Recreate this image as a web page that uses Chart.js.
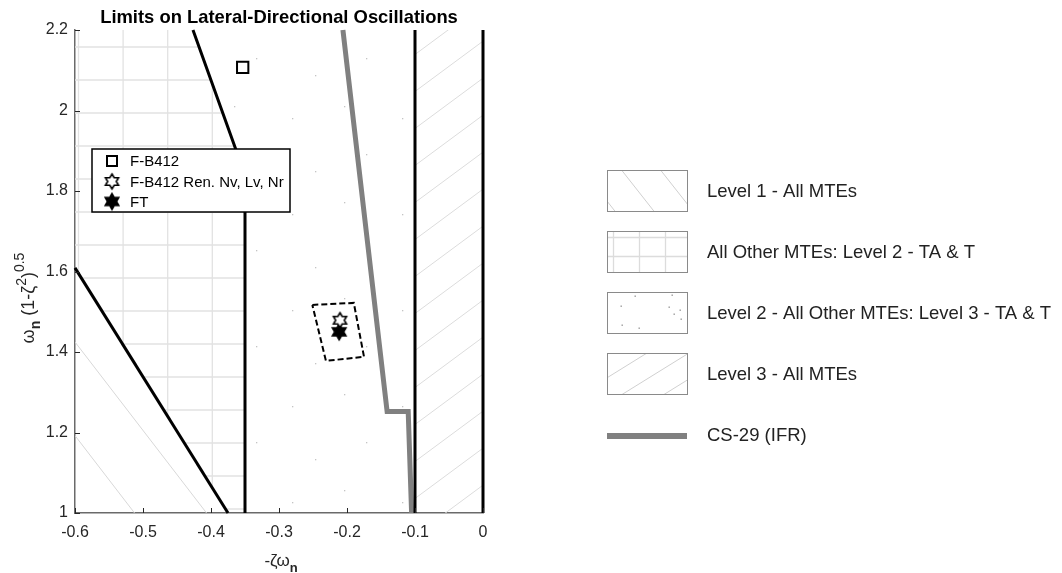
<!DOCTYPE html>
<html><head><meta charset="utf-8">
<script src="https://cdn.jsdelivr.net/npm/chart.js@4/dist/chart.umd.min.js"></script>
<style>html,body{margin:0;padding:0;background:#fff}#wrap{width:1062px;height:573px;position:relative}</style>
</head><body><div id="wrap"><canvas id="c" width="1062" height="573"></canvas></div>
<script>
// ---- data ----
const xTicks = [-0.6, -0.5, -0.4, -0.3, -0.2, -0.1, 0];
const yTicks = [1, 1.2, 1.4, 1.6, 1.8, 2, 2.2];
const lowerBoundary = [[-0.6, 1.609], [-0.375, 1.0]];
const upperBoundary = [[-0.4265, 2.2], [-0.35, 1.84], [-0.35, 1.0]];
const level3LeftBoundary = [[-0.1, 1.0], [-0.1, 2.2]];
const level3RightBoundary = [[0, 1.0], [0, 2.2]];
const cs29Line = [[-0.206, 2.2], [-0.141, 1.252], [-0.11, 1.252], [-0.105, 1.0]];
const envelopeBox = [[-0.251, 1.517], [-0.190, 1.522], [-0.175, 1.388], [-0.231, 1.378], [-0.251, 1.517]];
const fb412 = [[-0.3534, 2.107]];
const fb412Ren = [[-0.2103, 1.479]];
const ftPoints = [[-0.2115, 1.450]];
const regionLevel1 = [[-0.6, 1.609], [-0.375, 1.0], [-0.6, 1.0]];
const regionLevel2 = [[-0.6, 2.2], [-0.4265, 2.2], [-0.35, 1.84], [-0.35, 1.0], [-0.375, 1.0], [-0.6, 1.609]];
const regionLevel23 = [[-0.4265, 2.2], [-0.1, 2.2], [-0.1, 1.0], [-0.35, 1.0], [-0.35, 1.84]];
const regionLevel3 = [[-0.1, 2.2], [0, 2.2], [0, 1.0], [-0.1, 1.0]];
const markerLegend = ['F-B412', 'F-B412 Ren. Nv, Lv, Nr', 'FT'];
const regionLegend = ['Level 1 - All MTEs', 'All Other MTEs: Level 2 - TA & T', 'Level 2 - All Other MTEs: Level 3 - TA & T', 'Level 3 - All MTEs', 'CS-29 (IFR)'];
const titleText = 'Limits on Lateral-Directional Oscillations';

// ---- styling helpers ----
const FONT = '"Liberation Sans", Arial, Helvetica, sans-serif';
const toPts = a => a.map(([x, y]) => ({x, y}));
function hexagram(R, fill, stroke, lw) {
  const s = Math.ceil(2 * R + lw + 2); const c = document.createElement('canvas'); c.width = c.height = s;
  const g = c.getContext('2d'); const cx = s / 2, cy = s / 2, r = R / Math.sqrt(3);
  g.beginPath();
  for (let k = 0; k < 12; k++) { const a = -Math.PI / 2 + k * Math.PI / 6; const rr = k % 2 === 0 ? R : r; g.lineTo(cx + rr * Math.cos(a), cy + rr * Math.sin(a)); }
  g.closePath(); g.fillStyle = fill; g.fill(); g.lineWidth = lw; g.strokeStyle = stroke; g.lineJoin = 'miter'; g.stroke();
  return c;
}
const openStar = hexagram(7.5, '#ffffff', '#000000', 1.6);
const filledStar = hexagram(8.2, '#000000', '#000000', 1.2);
function dotTile() {
  const c = document.createElement('canvas'); c.width = 110; c.height = 96; const g = c.getContext('2d');
  g.fillStyle = '#c4c4c4';
  [[14, 10], [72, 22], [36, 58], [95, 75]].forEach(([x, y]) => g.fillRect(x, y, 1.3, 1.3));
  return c;
}
const dots = dotTile();

function polyPath(ctx, xs, ys, poly) {
  ctx.beginPath();
  poly.forEach(([x, y], i) => { const px = xs.getPixelForValue(x), py = ys.getPixelForValue(y); i ? ctx.lineTo(px, py) : ctx.moveTo(px, py); });
  ctx.closePath();
}
function hatch(ctx, l, t, r, b, x0, y0, slope, stepY) {
  const f = x => y0 + slope * (x - x0);
  const d = [t - f(l), t - f(r), b - f(l), b - f(r)];
  const kmin = Math.floor(Math.min(...d) / stepY) - 1, kmax = Math.ceil(Math.max(...d) / stepY) + 1;
  ctx.beginPath();
  for (let k = kmin; k <= kmax; k++) { ctx.moveTo(l, f(l) + k * stepY); ctx.lineTo(r, f(r) + k * stepY); }
  ctx.stroke();
}
function gridLines(ctx, l, t, r, b, x0, y0, sx, sy) {
  ctx.beginPath();
  for (let x = x0; x <= r; x += sx) { ctx.moveTo(x, t); ctx.lineTo(x, b); }
  for (let y = y0; y <= b; y += sy) { ctx.moveTo(l, y); ctx.lineTo(r, y); }
  ctx.stroke();
}

const regionsPlugin = {
  id: 'regions',
  beforeDatasetsDraw(chart) {
    const {ctx, chartArea: ca, scales: {x, y}} = chart;
    ctx.save();
    ctx.strokeStyle = '#d8d8d8'; ctx.lineWidth = 1;
    // Level 1
    ctx.save(); polyPath(ctx, x, y, regionLevel1); ctx.clip();
    hatch(ctx, ca.left, ca.top, ca.right, ca.bottom, ca.left, ca.top + 312, 1.3, 93.6); ctx.restore();
    // Level 2 grid
    ctx.save(); polyPath(ctx, x, y, regionLevel2); ctx.clip();
    ctx.strokeStyle = '#e2e2e2'; ctx.lineWidth = 1.3;
    gridLines(ctx, ca.left, ca.top, ca.right, ca.bottom, ca.left + 3.5, ca.top + 17, 44.6, 33); ctx.restore();
    // Level 2/3 dots
    ctx.save(); polyPath(ctx, x, y, regionLevel23); ctx.clip();
    ctx.fillStyle = ctx.createPattern(dots, 'repeat'); ctx.fillRect(ca.left, ca.top, ca.width, ca.height); ctx.restore();
    // Level 3
    ctx.save(); polyPath(ctx, x, y, regionLevel3); ctx.clip();
    ctx.strokeStyle = '#dcdcdc';
    hatch(ctx, ca.left, ca.top, ca.right + 2, ca.bottom, ca.left + 342, ca.top + 23, -0.74, 37); ctx.restore();
    ctx.restore();
  },
  afterDatasetsDraw(chart) {
    const {ctx, chartArea: ca, scales: {x, y}} = chart;
    ctx.save(); ctx.strokeStyle = '#262626'; ctx.lineWidth = 1;
    ctx.beginPath();
    xTicks.forEach(v => { const px = Math.round(x.getPixelForValue(v)) + 0.5; ctx.moveTo(px, ca.bottom); ctx.lineTo(px, ca.bottom - 5); });
    yTicks.forEach(v => { const py = Math.round(y.getPixelForValue(v)) + 0.5; ctx.moveTo(ca.left, py); ctx.lineTo(ca.left + 5, py); });
    ctx.stroke(); ctx.restore();
  },
  afterDraw(chart) {
    const {ctx, chartArea: ca} = chart;
    ctx.save();
    // title
    ctx.fillStyle = '#000'; ctx.font = 'bold 18.4px ' + FONT; ctx.textAlign = 'center'; ctx.textBaseline = 'alphabetic';
    ctx.fillText(titleText, (ca.left + ca.right) / 2, 22.5);
    // x axis title  -ζω_n
    ctx.fillStyle = '#262626'; ctx.textAlign = 'left';
    ctx.font = '17px ' + FONT; const main = '-ζω'; const wm = ctx.measureText(main).width;
    ctx.font = 'bold 13px ' + FONT; const wn = ctx.measureText('n').width;
    let sx = (ca.left + ca.right) / 2 - (wm + wn) / 2 + 2;
    ctx.font = '17px ' + FONT; ctx.fillText(main, sx, 566);
    ctx.font = 'bold 13px ' + FONT; ctx.fillText('n', sx + wm, 572);
    // y axis title  ω_n (1-ζ^2)^0.5
    ctx.save(); ctx.translate(34, 298); ctx.rotate(-Math.PI / 2);
    const parts = [['ω', '18px', 0], ['n', 'bold 14px', 6], [' (1-ζ', '18px', 0], ['2', '14px', -8], [')', '18px', 0], ['0.5', '14px', -10]];
    let tw = 0; parts.forEach(p => { ctx.font = p[1] + ' ' + FONT; p.w = ctx.measureText(p[0]).width; tw += p.w; });
    let cx = -tw / 2; ctx.textAlign = 'left';
    parts.forEach(p => { ctx.font = p[1] + ' ' + FONT; ctx.fillText(p[0], cx, p[2]); cx += p.w; });
    ctx.restore();
    // inner marker legend
    ctx.fillStyle = '#fff'; ctx.fillRect(92, 149, 198, 63);
    ctx.strokeStyle = '#000'; ctx.lineWidth = 1.5; ctx.strokeRect(92, 149, 198, 63);
    const rowsY = [161, 181.5, 201.5];
    ctx.lineWidth = 2; ctx.strokeRect(107, 156, 10, 10);
    ctx.drawImage(openStar, 112 - openStar.width / 2, rowsY[1] - openStar.height / 2);
    ctx.drawImage(filledStar, 112 - filledStar.width / 2, rowsY[2] - filledStar.height / 2);
    ctx.fillStyle = '#000'; ctx.font = '15px ' + FONT; ctx.textBaseline = 'middle'; ctx.textAlign = 'left';
    markerLegend.forEach((t, i) => ctx.fillText(t, 130, rowsY[i] + 1));
    // right region legend
    const px0 = 607.5, pw = 80, ph = 41;
    const patchY = [170.5, 231.5, 292.5, 353.5];
    const textY = [192, 253, 314, 375, 436];
    patchY.forEach((py, i) => {
      ctx.save(); ctx.beginPath(); ctx.rect(px0, py, pw, ph); ctx.clip();
      ctx.strokeStyle = '#d0d0d0'; ctx.lineWidth = 1;
      if (i === 0) hatch(ctx, px0, py, px0 + pw, py + ph, px0 + 16, py + 2, 1.27, 49.5);
      if (i === 1) { ctx.strokeStyle = '#dcdcdc'; ctx.lineWidth = 1.3; gridLines(ctx, px0, py, px0 + pw, py + ph, px0 + 6, py + 6, 26, 19); }
      if (i === 2) { ctx.fillStyle = '#999';
        [[27, 3], [64, 2], [13, 13], [61, 14], [72, 17], [66, 21], [73, 26], [14, 32], [31, 35]].forEach(([a, b]) => ctx.fillRect(px0 + a, py + b, 1.4, 1.4)); }
      if (i === 3) hatch(ctx, px0, py, px0 + pw, py + ph, px0, py + 24, -0.62, 26);
      ctx.restore();
      ctx.strokeStyle = '#8a8a8a'; ctx.lineWidth = 1; ctx.strokeRect(px0, py, pw, ph);
    });
    ctx.fillStyle = '#808080'; ctx.fillRect(607, 433, 80, 6);
    ctx.fillStyle = '#222'; ctx.font = '18.5px ' + FONT; ctx.textBaseline = 'middle';
    regionLegend.forEach((t, i) => ctx.fillText(t, 707, textY[i]));
    ctx.restore();
  }
};

const lineDs = (label, pts, color, width, extra) => Object.assign({
  label, data: toPts(pts), showLine: true, borderColor: color, borderWidth: width, pointRadius: 0,
  pointHoverRadius: 0, fill: false, tension: 0, clip: false, borderCapStyle: 'butt', borderJoinStyle: 'miter'
}, extra || {});

new Chart(document.getElementById('c'), {
  type: 'scatter',
  data: {
    datasets: [
      lineDs('Lower boundary', lowerBoundary, '#000', 3),
      lineDs('Upper boundary', upperBoundary, '#000', 3),
      lineDs('Level 3 left', level3LeftBoundary, '#000', 3),
      lineDs('Level 3 right', level3RightBoundary, '#000', 3),
      lineDs('CS-29 (IFR)', cs29Line, '#808080', 5),
      lineDs('Envelope', envelopeBox, '#000', 2, {borderDash: [6, 3]}),
      {label: markerLegend[0], data: toPts(fb412), pointStyle: 'rect', pointRadius: 8, backgroundColor: '#fff', borderColor: '#000', borderWidth: 2},
      {label: markerLegend[1], data: toPts(fb412Ren), pointStyle: openStar},
      {label: markerLegend[2], data: toPts(ftPoints), pointStyle: filledStar}
    ]
  },
  options: {
    responsive: false, devicePixelRatio: 1, animation: false,
    layout: {padding: {left: 0, right: 579, top: 30, bottom: 0}},
    plugins: {legend: {display: false}, title: {display: false}, tooltip: {enabled: false}},
    scales: {
      x: {
        type: 'linear', min: -0.6, max: 0,
        afterBuildTicks: s => { s.ticks = xTicks.map(v => ({value: v})); },
        afterFit: s => { s.height = 60; },
        grid: {display: false, drawTicks: false},
        border: {display: true, color: '#6a6a6a', width: 1.5},
        ticks: {color: '#262626', font: {family: FONT, size: 16}, padding: 10, maxRotation: 0, callback: v => String(Math.round(v * 10) / 10)}
      },
      y: {
        type: 'linear', min: 1, max: 2.2,
        afterBuildTicks: s => { s.ticks = yTicks.map(v => ({value: v})); },
        afterFit: s => { s.width = 75; },
        grid: {display: false, drawTicks: false},
        border: {display: true, color: '#6a6a6a', width: 1.5},
        ticks: {color: '#262626', font: {family: FONT, size: 16}, padding: 7, callback: v => String(Math.round(v * 10) / 10)}
      }
    }
  },
  plugins: [regionsPlugin]
});
</script></body></html>
